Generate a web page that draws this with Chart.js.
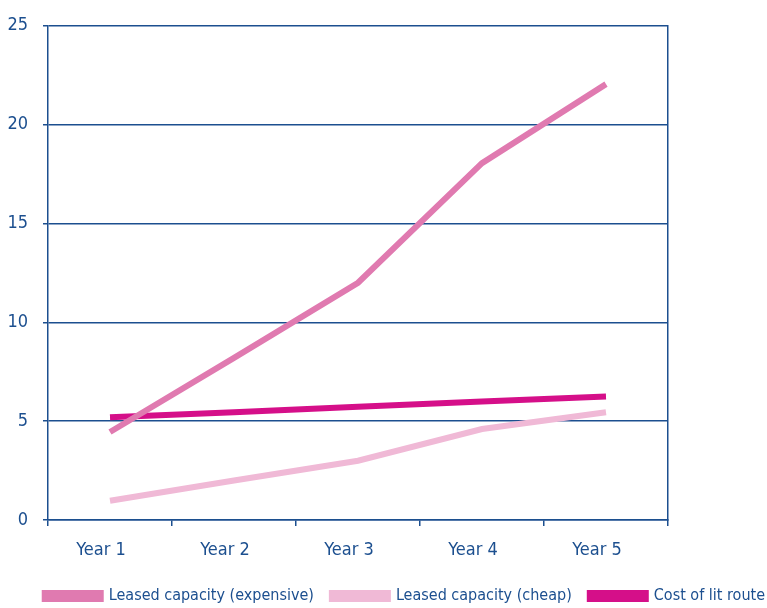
<!DOCTYPE html>
<html>
<head>
<meta charset="utf-8">
<script src="https://cdn.jsdelivr.net/npm/chart.js@4.4.0/dist/chart.umd.min.js"></script>
<style>
  html, body { margin: 0; padding: 0; background: #fff; }
  #wrap { width: 767px; height: 608px; }
</style>
</head>
<body>
<div id="wrap"><canvas id="chart"></canvas></div>
<script>
// Данные графика
const years = ["Year 1", "Year 2", "Year 3", "Year 4", "Year 5"];
const leasedExpensive = [4.45, 8.2, 12.0, 18.05, 22.05];
const leasedCheap = [0.97, 2.0, 3.0, 4.6, 5.45];
const litRoute = [5.2, 5.45, 5.73, 6.0, 6.25];

const axisBlue = "#1c4f8f";
const FONT = '"DejaVu Sans Condensed", "DejaVu Sans", sans-serif';

Chart.defaults.font.family = FONT;
Chart.defaults.font.weight = "condensed";
Chart.defaults.color = axisBlue;

function line(label, data, color) {
    return {
        label,
        data,
        borderColor: color,
        backgroundColor: color,
        borderWidth: 6,
        pointRadius: 0,
        tension: 0,
        fill: false,
    };
}

new Chart(document.getElementById("chart"), {
    type: "line",
    data: {
        labels: years,
        datasets: [
            line("Leased capacity (expensive)", leasedExpensive, "#e07ab0"),
            line("Leased capacity (cheap)", leasedCheap, "#f0b9d6"),
            line("Cost of lit route", litRoute, "#d50f89"),
        ],
    },
    options: {
        responsive: true,
        maintainAspectRatio: false,
        animation: false,
        layout: { padding: { top: 5, right: -16, left: 0, bottom: -6 } },
        plugins: {
            tooltip: { enabled: false },
            legend: {
                position: "bottom",
                align: "end",
                labels: {
                    boxWidth: 56,
                    boxHeight: 6,
                    padding: 18,
                    font: { size: 16 },
                    color: axisBlue,
                },
            },
        },
        scales: {
            x: {
                offset: true,
                afterFit: (s) => { s.height = 50; },
                grid: {
                    offset: true,
                    drawOnChartArea: false,
                    color: axisBlue,
                    tickLength: 6,
                    lineWidth: 1.5,
                },
                border: { color: axisBlue, width: 1.5 },
                ticks: { font: { size: 18 }, padding: 14, labelOffset: -9, color: axisBlue },
            },
            y: {
                min: 0,
                max: 25,
                afterFit: (s) => { s.width = 48; },
                ticks: { stepSize: 5, font: { size: 18 }, padding: 15, color: axisBlue },
                grid: { color: axisBlue, lineWidth: 1.5, tickLength: 5 },
                border: { color: axisBlue, width: 1.5 },
            },
            y2: {
                position: "right",
                min: 0,
                max: 25,
                afterFit: (s) => { s.width = 115; },
                ticks: { display: false },
                grid: { display: false },
                border: { color: axisBlue, width: 1.5 },
            },
        },
    },
});
</script>
</body>
</html>
